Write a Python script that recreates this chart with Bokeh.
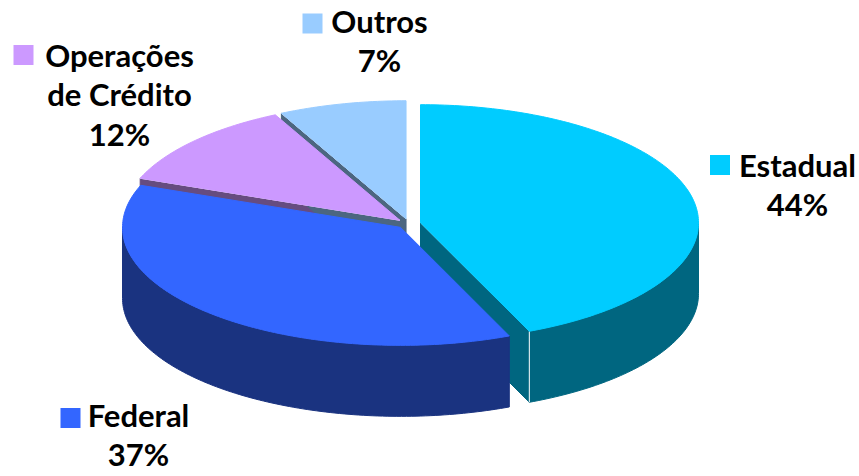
import numpy as np
from bokeh.plotting import figure
from bokeh.models import Range1d, ColumnDataSource
from bokeh.embed import file_html
from bokeh.resources import INLINE
from bokeh.core.properties import value

# ---------------- data ----------------
categories = ["Estadual", "Federal", "Operações de Crédito", "Outros"]
values = [43.6, 37.2, 11.8, 7.4]
label_lines = [["Estadual"], ["Federal"], ["Operações", "de Crédito"], ["Outros"]]
top_colors = ["#00CCFF", "#3366FF", "#CC99FF", "#99CCFF"]
side_colors = ["#006680", "#1A3380", "#664C80", "#4C6680"]

# ---------------- layout ----------------
W, H = 859, 476
CX, CY = 408.3, 223.2      # pie centre (pixels)
RX, RY = 278.0, 118.0      # ellipse radii
DEPTH = 71.0               # thickness of the pie
EXPLODE = 0.043            # explode distance (fraction of radius)
# label layout: text centre x, first baseline y, key centre x, key centre y
label_text_pos = [(797, 164), (138, 414), (119, 54), (379, 20)]
label_key_pos = [(719.5, 164.5), (70, 417.5), (23, 54.5), (312, 23)]
LINE_H = 39.5
KEY = 20
FONT = "Lato"
FONT_SIZE = "31px"

p = figure(width=W, height=H, x_range=Range1d(0, W), y_range=Range1d(H, 0),
           output_backend="svg", toolbar_location=None, min_border=0)
p.axis.visible = False
p.grid.visible = False
p.outline_line_color = None
p.background_fill_color = "white"
p.border_fill_color = "white"

total = float(sum(values))
angles = np.cumsum([0.0] + [v / total * 360.0 for v in values])


def arc(a0, a1, ox, oy, dz=0.0, n=None):
    if n is None:
        n = max(2, int(abs(a1 - a0) / 1.0) + 2)
    t = np.radians(np.linspace(a0, a1, n))
    return list(ox + RX * np.sin(t)), list(oy - RY * np.cos(t) + dz)


walls_xs, walls_ys, walls_c = [], [], []
sides_xs, sides_ys, sides_c = [], [], []
tops_xs, tops_ys, tops_c = [], [], []
hl_xs, hl_ys = [], []

for i, v in enumerate(values):
    a0, a1 = angles[i], angles[i + 1]
    m = np.radians((a0 + a1) / 2)
    ox = CX + RX * EXPLODE * np.sin(m)
    oy = CY - RY * EXPLODE * np.cos(m)

    # top face
    ax_, ay_ = arc(a0, a1, ox, oy)
    tops_xs.append([ox] + ax_)
    tops_ys.append([oy] + ay_)
    tops_c.append(top_colors[i])

    # radial walls facing the viewer
    for a, vis in ((a0, np.sin(np.radians(a0)) < -1e-6),
                   (a1, np.sin(np.radians(a1)) > 1e-6)):
        if vis:
            ex = ox + RX * np.sin(np.radians(a))
            ey = oy - RY * np.cos(np.radians(a))
            walls_xs.append([ox, ex, ex, ox])
            walls_ys.append([oy, ey, ey + DEPTH, oy + DEPTH])
            walls_c.append(side_colors[i])
            hl_xs.append([ox, ex])
            hl_ys.append([oy, ey])

    # outer curved side (front half only)
    s, e = max(a0, 90.0), min(a1, 270.0)
    if e > s:
        tx, ty = arc(s, e, ox, oy)
        bx, by = arc(s, e, ox, oy, DEPTH)
        sides_xs.append(tx + bx[::-1])
        sides_ys.append(ty + by[::-1])
        sides_c.append(side_colors[i])
        if a1 < 270 and a1 > 90:
            ex, ey = tx[-1], ty[-1]
            hl_xs.append([ex, ex])
            hl_ys.append([ey, ey + DEPTH])

p.patches(walls_xs, walls_ys, fill_color=walls_c, line_color=walls_c, line_width=1)
p.patches(sides_xs, sides_ys, fill_color=sides_c, line_color=sides_c, line_width=1)
p.multi_line(hl_xs, hl_ys, line_color="white", line_width=1)
p.patches(tops_xs, tops_ys, fill_color=tops_c, line_color=tops_c, line_width=1)

# ---------------- labels ----------------
pcts = [f"{round(v / total * 100)}%" for v in values]
tx, ty, tt = [], [], []
for i in range(len(values)):
    cx_, by_ = label_text_pos[i]
    lines = label_lines[i] + [pcts[i]]
    for k, line in enumerate(lines):
        tx.append(cx_)
        ty.append(by_ + k * LINE_H)
        tt.append(line)
p.text(x=tx, y=ty, text=tt, text_font=value(FONT), text_font_style="bold",
       text_font_size=FONT_SIZE, text_align="center", text_baseline="alphabetic",
       text_color="black")

kx = [k[0] for k in label_key_pos]
ky = [k[1] for k in label_key_pos]
p.rect(x=kx, y=ky, width=KEY, height=KEY, fill_color=top_colors, line_color=None)

open("out.html", "w").write(file_html(p, INLINE))
